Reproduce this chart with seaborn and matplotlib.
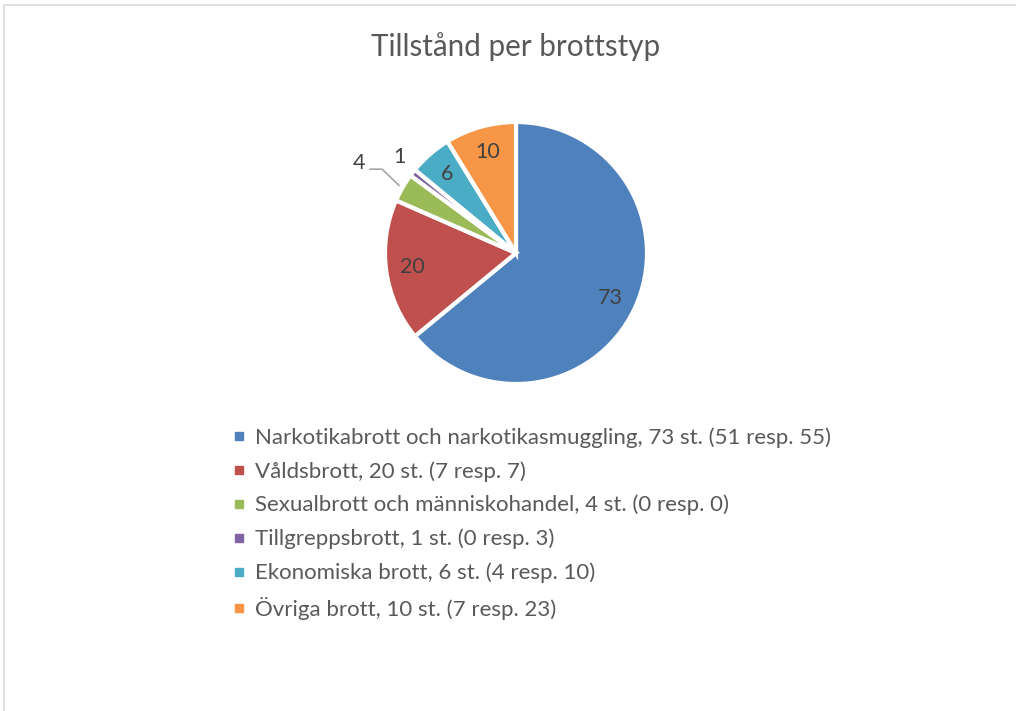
import numpy as np
import matplotlib
matplotlib.use("Agg")
import matplotlib.pyplot as plt
from matplotlib.lines import Line2D
from matplotlib.patches import Rectangle
import seaborn as sns

title = "Tillstånd per brottstyp"
categories = ["Narkotikabrott och narkotikasmuggling", "Våldsbrott",
              "Sexualbrott och människohandel", "Tillgreppsbrott",
              "Ekonomiska brott", "Övriga brott"]
values = [73, 20, 4, 1, 6, 10]
legend_extra = ["(51 resp. 55)", "(7 resp. 7)", "(0 resp. 0)", "(0 resp. 3)",
                "(4 resp. 10)", "(7 resp. 23)"]
colors = ["#4F81BD", "#C0504D", "#9BBB59", "#8064A2", "#4BACC6", "#F79646"]

sns.set_theme(style="white")
plt.rcParams['font.family'] = ['Lato', 'DejaVu Sans']
text_color = "#595959"

W, H = 1016, 711
fig = plt.figure(figsize=(W / 100, H / 100), dpi=100)
fig.patch.set_facecolor("white")

# chart border
fig.patches.append(Rectangle((3.5 / W, -0.2), 1.5, (H - 4.5) / H + 0.2,
                             transform=fig.transFigure, fill=False,
                             edgecolor="#D9D9D9", linewidth=1.2))

cx, cy, R = 516, 253, 131
ax = fig.add_axes([(cx - R) / W, (H - cy - R) / H, 2 * R / W, 2 * R / H])
ax.axis("off")

palette = sns.color_palette(colors)
wedges, _ = ax.pie(values, colors=palette, startangle=90, counterclock=False,
                   radius=1, wedgeprops=dict(edgecolor="white", linewidth=3))
ax.set_xlim(-1, 1)
ax.set_ylim(-1, 1)

fs_lab = 15.5
for w, v in zip(wedges, values):
    mid = np.deg2rad((w.theta1 + w.theta2) / 2)
    if v >= 5:
        d = 0.8
        ax.text(d * np.cos(mid), d * np.sin(mid), str(v), ha="center",
                va="center", fontsize=fs_lab, color="#404040")
    elif v == 1:
        d = 1.15
        ax.text(d * np.cos(mid - 0.03), d * np.sin(mid - 0.03), str(v),
                ha="center", va="center", fontsize=fs_lab, color="#404040")
    else:
        d = 1.38
        lx, ly = d * np.cos(mid), d * np.sin(mid)
        ax.text(lx, ly, str(v), ha="center", va="center", fontsize=fs_lab,
                color="#404040")
        ex, ey = 1.03 * np.cos(mid), 1.03 * np.sin(mid)
        ax.plot([lx + 0.08, ex - 0.13, ex], [ly - 0.05, ly - 0.05, ey],
                color="#A6A6A6", linewidth=1.2, clip_on=False)

fig.text(cx / W, 1 - 47 / H, title, ha="center", va="center",
         fontsize=21.3, color=text_color)

handles = [Line2D([], [], linestyle="none", marker="s", markersize=6,
                  markerfacecolor=c, markeredgecolor=c) for c in colors]
labels = [f"{c}, {v} st. {e}" for c, v, e in zip(categories, values, legend_extra)]
leg = fig.legend(handles, labels, loc="upper left",
                 bbox_to_anchor=(232 / W, 1 - 427 / H), frameon=False,
                 fontsize=16, labelspacing=0.60, handlelength=0.6,
                 handletextpad=0.45, borderpad=0, borderaxespad=0)
for t in leg.get_texts():
    t.set_color(text_color)

fig.savefig("out.png", dpi=100)
